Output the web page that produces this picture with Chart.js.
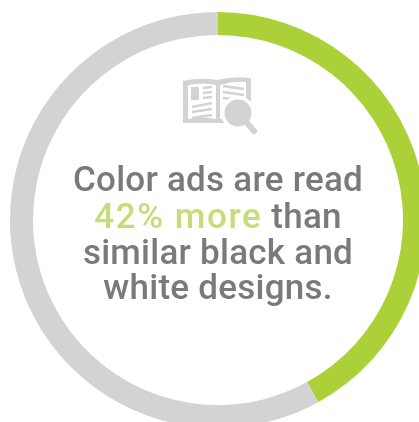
<!DOCTYPE html>
<html>
<head>
<meta charset="utf-8">
<script src="https://cdn.jsdelivr.net/npm/chart.js@4"></script>
<style>
  html, body { margin: 0; padding: 0; background: #fff; width: 419px; height: 422px; overflow: hidden; }
  #stage { position: relative; width: 419px; height: 422px; overflow: hidden; }
  #ring { position: absolute; left: 0; top: 0; width: 436px; height: 440px; }
  #ring canvas { display: block; }
  #icon { position: absolute; left: 0; top: 0; }
  .line {
    position: absolute; left: 18px; width: 400px; text-align: center; white-space: nowrap;
    font-family: Roboto, sans-serif; font-weight: 500; font-size: 35px; line-height: 36px;
    letter-spacing: 0.25px; color: #7a7a7a;
  }
  .line b { font-weight: 500; letter-spacing: 1.6px; color: #c5dc78; }
</style>
</head>
<body>
<div id="stage">
  <div id="ring"><canvas id="chart" width="436" height="440"></canvas></div>
  <svg id="icon" width="419" height="422" viewBox="0 0 419 422">
    <path d="M183 81 Q200 77 217 80 Q234 76 251 78 L251 123 L217 123 L183 123 Z" fill="#d1d3d4"/>
    <path d="M188 85 Q203 82 216 85 L216 119 Q203 116 188 119 Z" fill="#fff"/>
    <path d="M220 85 Q233 81 246 82 L246 119 L220 119 Z" fill="#fff"/>
    <rect x="191" y="87" width="8" height="13" fill="#d1d3d4"/>
    <g stroke="#d1d3d4" stroke-width="2.4" fill="none" stroke-linecap="butt">
      <path d="M203 88 L212 87"/>
      <path d="M203 93 L212 92"/>
      <path d="M203 98 L212 97"/>
      <path d="M192 107 L212 103"/>
      <path d="M192 112 L212 109"/>
      <path d="M192 118 L212 115"/>
      <path d="M223 86 L244 89"/>
      <path d="M223 92 L244 95"/>
      <path d="M223 98 L240 100"/>
    </g>
    <circle cx="238" cy="113" r="17" fill="#fff"/>
    <path d="M246 122 L254 131" stroke="#d1d3d4" stroke-width="6" stroke-linecap="round"/>
    <circle cx="238" cy="113" r="13.5" fill="#d1d3d4"/>
  </svg>
  <div class="line" style="top:162px">Color ads are read</div>
  <div class="line" style="top:199px"><b>42% more</b> than</div>
  <div class="line" style="top:235px">similar black and</div>
  <div class="line" style="top:270px">white designs.</div>
</div>
<script>
// Share of attention shown on the ring
const categories = ["More readers with color", "Remainder"];
const shareValues = [42, 58];
const sliceColors = ["#acd037", "#d1d3d4"];

new Chart(document.getElementById("chart"), {
  type: "doughnut",
  data: {
    labels: categories,
    datasets: [{
      data: shareValues,
      backgroundColor: sliceColors,
      borderWidth: 0
    }]
  },
  options: {
    responsive: false,
    animation: false,
    cutout: 185,
    rotation: 0,
    layout: { padding: { left: 10, right: 10, top: 12, bottom: 12 } },
    plugins: { legend: { display: false }, tooltip: { enabled: false } }
  }
});
</script>
</body>
</html>
